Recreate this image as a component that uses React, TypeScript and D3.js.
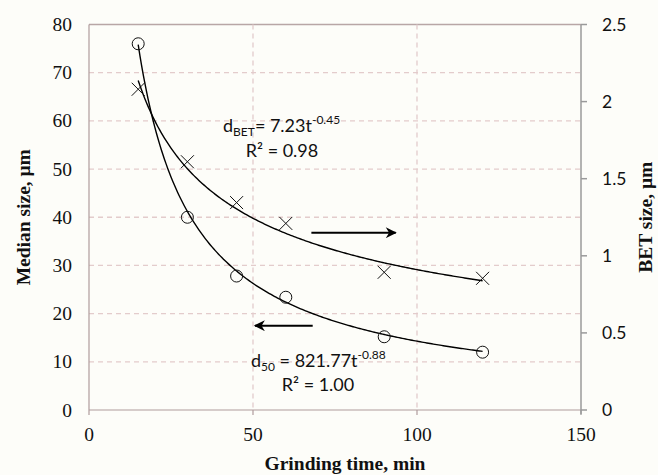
import React from "react";
import * as d3 from "d3";

// Grinding time (min) and measured sizes
const times = [15, 30, 45, 60, 90, 120];
const medianSize = [76, 40, 27.8, 23.4, 15.2, 12.0]; // d50, μm (left axis)
const betSize = [2.08, 1.61, 1.345, 1.21, 0.893, 0.854]; // dBET, μm (right axis)

// Power-law fit parameters
const d50Fit = { a: 821.77, b: -0.88 };
const betFit = { a: 7.23, b: -0.45 };

const xTicks = [0, 50, 100, 150];
const leftTicks = [0, 10, 20, 30, 40, 50, 60, 70, 80];
const rightTicks = [0, 0.5, 1, 1.5, 2, 2.5];

const W = 658;
const H = 475;
const m = { left: 89, right: 581, top: 24.5, bottom: 410 };

export default function App() {
  const x = d3.scaleLinear().domain([0, 150]).range([m.left, m.right]);
  const yL = d3.scaleLinear().domain([0, 80]).range([m.bottom, m.top]);
  const yR = d3.scaleLinear().domain([0, 2.5]).range([m.bottom, m.top]);

  const fitTimes = d3.range(15, 120.01, 0.5);
  const d50Line = d3
    .line<number>()
    .x((t) => x(t))
    .y((t) => yL(d50Fit.a * Math.pow(t, d50Fit.b)))(fitTimes);
  const betLine = d3
    .line<number>()
    .x((t) => x(t))
    .y((t) => yR(betFit.a * Math.pow(t, betFit.b)))(fitTimes);

  const gridColor = "#e3cccc";
  const serif = "'Liberation Serif', 'Times New Roman', 'DejaVu Serif', serif";
  const sans = "Lato, 'Open Sans', sans-serif";

  return (
    <svg
      width={W}
      height={H}
      style={{ position: "absolute", left: 0, top: 0, background: "#fdfdf9" }}
    >
      <defs>
        <marker
          id="arrowHead"
          viewBox="0 0 10 10"
          refX="9"
          refY="5"
          markerWidth="12"
          markerHeight="11"
          markerUnits="userSpaceOnUse"
          orient="auto"
        >
          <path d="M0,0 L10,5 L0,10 L3,5 Z" fill="#000" />
        </marker>
      </defs>
      <rect x={0} y={0} width={W} height={H} fill="#fdfdf9" />

      {/* horizontal grid */}
      {leftTicks
        .filter((v) => v > 0)
        .map((v) => (
          <line
            key={"hg" + v}
            x1={m.left}
            x2={m.right}
            y1={yL(v)}
            y2={yL(v)}
            stroke={v === 80 ? "#b8a6a6" : gridColor}
            strokeWidth={1.3}
            strokeDasharray={v === 80 ? undefined : "5,4"}
          />
        ))}
      {/* vertical grid */}
      {xTicks
        .filter((v) => v > 0 && v < 150)
        .map((v) => (
          <line
            key={"vg" + v}
            x1={x(v)}
            x2={x(v)}
            y1={m.top}
            y2={m.bottom}
            stroke={gridColor}
            strokeWidth={1.3}
            strokeDasharray="5,4"
          />
        ))}

      {/* axes */}
      <line x1={m.left} x2={m.left} y1={m.top} y2={m.bottom} stroke="#b09c9c" strokeWidth={1.2} />
      <line x1={m.left} x2={m.right} y1={m.bottom} y2={m.bottom} stroke="#b09c9c" strokeWidth={1.2} />
      <line x1={m.right} x2={m.right} y1={m.top} y2={m.bottom + 4} stroke="#9a9a9a" strokeWidth={1.5} />
      {xTicks.map((v) => (
        <line
          key={"xt" + v}
          x1={x(v)}
          x2={x(v)}
          y1={m.bottom}
          y2={m.bottom + 5}
          stroke={v === 150 ? "#9a9a9a" : "#b09c9c"}
          strokeWidth={1.2}
        />
      ))}
      {rightTicks.map((v) => (
        <line
          key={"rt" + v}
          x1={m.right}
          x2={m.right + 6}
          y1={yR(v)}
          y2={yR(v)}
          stroke="#9a9a9a"
          strokeWidth={1.5}
        />
      ))}

      {/* tick labels */}
      {xTicks.map((v) => (
        <text
          key={"xl" + v}
          x={x(v)}
          y={441}
          textAnchor="middle"
          fontFamily={serif}
          fontSize={19.5}
          fill="#111"
        >
          {v}
        </text>
      ))}
      {leftTicks.map((v) => (
        <text
          key={"ll" + v}
          x={m.left - 17}
          y={yL(v) + 6.5}
          textAnchor="end"
          fontFamily={serif}
          fontSize={19.5}
          fill="#111"
        >
          {v}
        </text>
      ))}
      {rightTicks.map((v) => (
        <text
          key={"rl" + v}
          x={m.right + 21}
          y={yR(v) + 6}
          textAnchor="start"
          fontFamily={sans}
          fontSize={17.5}
          fill="#111"
        >
          {v}
        </text>
      ))}

      {/* axis titles */}
      <text
        x={345}
        y={470}
        textAnchor="middle"
        fontFamily={serif}
        fontWeight="bold"
        fontSize={19.5}
        fill="#111"
      >
        Grinding time, min
      </text>
      <text
        transform={`translate(30, ${(m.top + m.bottom) / 2}) rotate(-90)`}
        textAnchor="middle"
        fontFamily={serif}
        fontWeight="bold"
        fontSize={19.5}
        fill="#111"
      >
        Median size, μm
      </text>
      <text
        transform={`translate(652, ${(m.top + m.bottom) / 2}) rotate(-90)`}
        textAnchor="middle"
        fontFamily={serif}
        fontWeight="bold"
        fontSize={19.5}
        fill="#111"
      >
        BET size, μm
      </text>

      {/* fitted curves */}
      <path d={d50Line ?? ""} fill="none" stroke="#000" strokeWidth={1.4} />
      <path d={betLine ?? ""} fill="none" stroke="#000" strokeWidth={1.4} />

      {/* d50 points */}
      {times.map((t, i) => (
        <circle
          key={"c" + t}
          cx={x(t)}
          cy={yL(medianSize[i])}
          r={6}
          fill="none"
          stroke="#111"
          strokeWidth={1}
        />
      ))}
      {/* BET points */}
      {times.map((t, i) => {
        const cx = x(t);
        const cy = yR(betSize[i]);
        const s = 6.5;
        return (
          <path
            key={"x" + t}
            d={`M${cx - s},${cy - s}L${cx + s},${cy + s}M${cx - s},${cy + s}L${cx + s},${cy - s}`}
            stroke="#111"
            strokeWidth={1}
            fill="none"
          />
        );
      })}

      {/* direction arrows */}
      <line
        x1={x(67.8)}
        x2={x(93.5)}
        y1={yR(1.15)}
        y2={yR(1.15)}
        stroke="#000"
        strokeWidth={2}
        markerEnd="url(#arrowHead)"
      />
      <line
        x1={x(68.2)}
        x2={x(50.6)}
        y1={yL(17.5)}
        y2={yL(17.5)}
        stroke="#000"
        strokeWidth={2}
        markerEnd="url(#arrowHead)"
      />

      {/* fit equations */}
      <text x={223} y={132} fontFamily={sans} fontSize={18} fill="#111">
        d<tspan dy={4} fontSize={12}>BET</tspan>
        <tspan dy={-4}>= 7.23t</tspan>
        <tspan dy={-8} fontSize={12}>-0.45</tspan>
      </text>
      <text x={282} y={157} textAnchor="middle" fontFamily={sans} fontSize={18} fill="#111">
        R² = 0.98
      </text>
      <text x={251} y={367} fontFamily={sans} fontSize={18} fill="#111">
        d<tspan dy={4} fontSize={12}>50</tspan>
        <tspan dy={-4}> = 821.77t</tspan>
        <tspan dy={-8} fontSize={12}>-0.88</tspan>
      </text>
      <text x={318} y={391} textAnchor="middle" fontFamily={sans} fontSize={18} fill="#111">
        R² = 1.00
      </text>
    </svg>
  );
}
